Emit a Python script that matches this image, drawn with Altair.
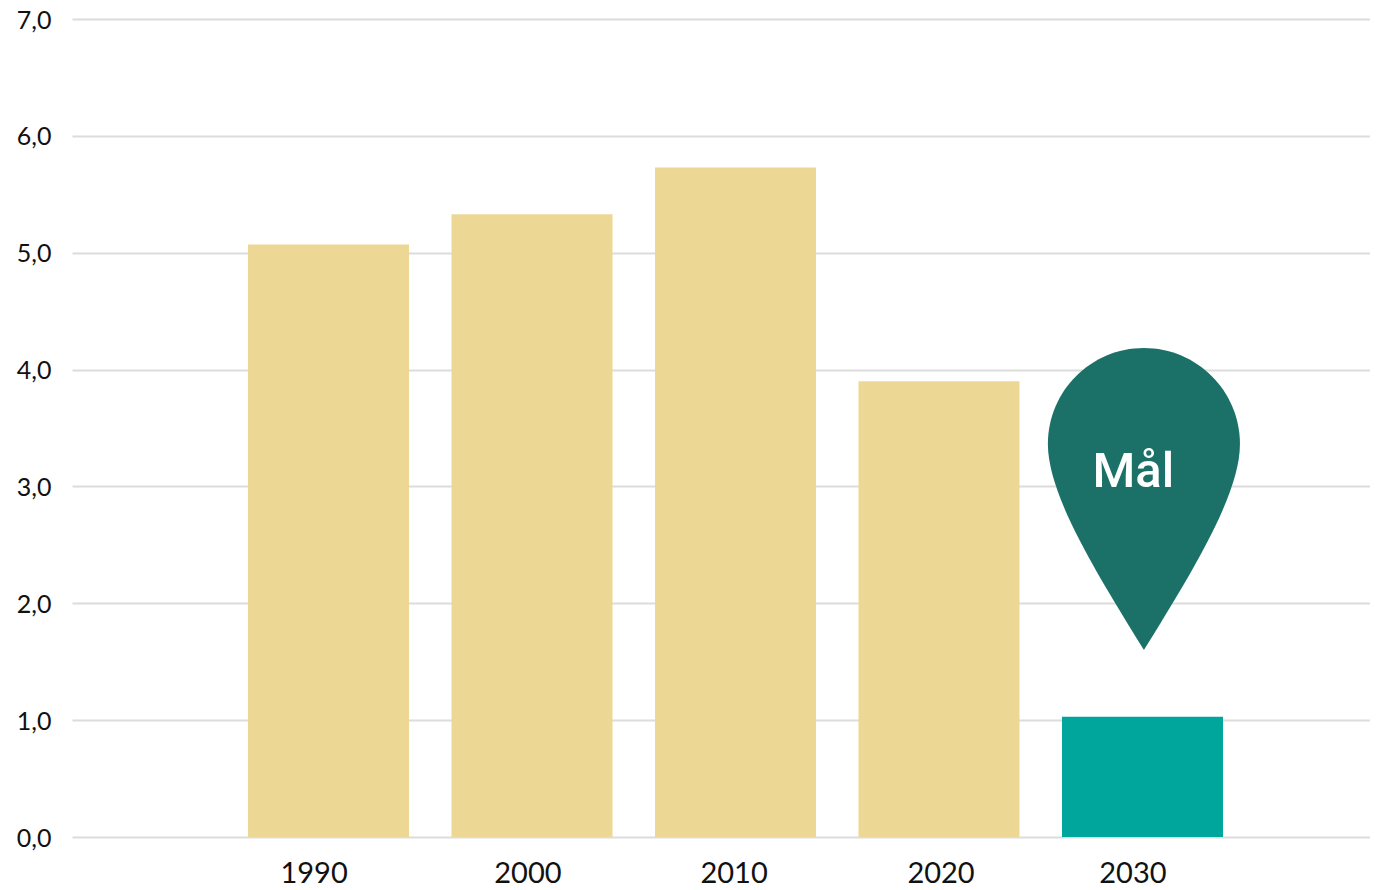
import altair as alt
import pandas as pd

years = [1990, 2000, 2010, 2020, 2030]
values = [5.07, 5.33, 5.73, 3.90, 1.03]
bar_colors = ["#ecd894", "#ecd894", "#ecd894", "#ecd894", "#00a59b"]
label_text = ["1990", "2000", "2010", "2020", "2030"]
label_year = [1989.29, 1999.80, 2009.93, 2020.10, 2029.53]
pin_year = [2030.07]
pin_value = [2.892]
pin_label = ["Mål"]
pin_label_year = [2029.55]
pin_label_value = [3.12]

FONT = "Lato"
PIN = ("M0,1 C-.331,.464 -.636,-.033 -.636,-.364 "
       "C-.636,-.715 -.351,-1 0,-1 C.351,-1 .636,-.715 .636,-.364 "
       "C.636,-.033 .331,.464 0,1 Z")

x_scale = alt.Scale(domain=[1977.395, 2041.18], nice=False, zero=False, padding=0)
y_scale = alt.Scale(domain=[0, 7], nice=False)

df = pd.DataFrame({"year": years, "value": values, "color": bar_colors})
labels = pd.DataFrame({"text": label_text, "pos": label_year})
pin = pd.DataFrame({"year": pin_year, "value": pin_value})
pin_txt = pd.DataFrame({"text": pin_label, "year": pin_label_year, "value": pin_label_value})

bars = alt.Chart(df).mark_bar(size=161).encode(
    x=alt.X("year:Q", scale=x_scale, axis=None),
    y=alt.Y("value:Q", scale=y_scale, axis=alt.Axis(
        values=[0, 1, 2, 3, 4, 5, 6, 7],
        title=None, ticks=False, domain=False, grid=True,
        gridColor="#dcdcdc", gridWidth=2,
        labelFont=FONT, labelFontSize=25, labelColor="#111111", labelPadding=21,
        labelOffset=1,
        labelExpr="replace(format(datum.value, '.1f'), '.', ',')",
    )),
    color=alt.Color("color:N", scale=None),
)

xlabels = alt.Chart(labels).mark_text(
    font=FONT, fontSize=29, color="#111111", align="center", baseline="middle"
).encode(
    x=alt.X("pos:Q", scale=x_scale, axis=None),
    y=alt.value(855),
    text="text:N",
)

marker = alt.Chart(pin).mark_point(
    shape=PIN, size=91204, filled=True, fill="#1b7167", opacity=1, strokeWidth=0
).encode(
    x=alt.X("year:Q", scale=x_scale, axis=None),
    y=alt.Y("value:Q", scale=y_scale),
)

marker_text = alt.Chart(pin_txt).mark_text(
    font="Roboto", fontSize=49, fontWeight=500, color="#ffffff", align="center", baseline="middle"
).encode(
    x=alt.X("year:Q", scale=x_scale, axis=None),
    y=alt.Y("value:Q", scale=y_scale),
    text="text:N",
)

chart = (bars + xlabels + marker + marker_text).properties(
    width=1298, height=818,
    autosize=alt.AutoSizeParams(type="none"),
    padding={"left": 64, "top": 11, "right": 0, "bottom": 48},
).configure_view(stroke=None)

chart.save("out.html", embed_options={"renderer": "svg", "actions": False})
